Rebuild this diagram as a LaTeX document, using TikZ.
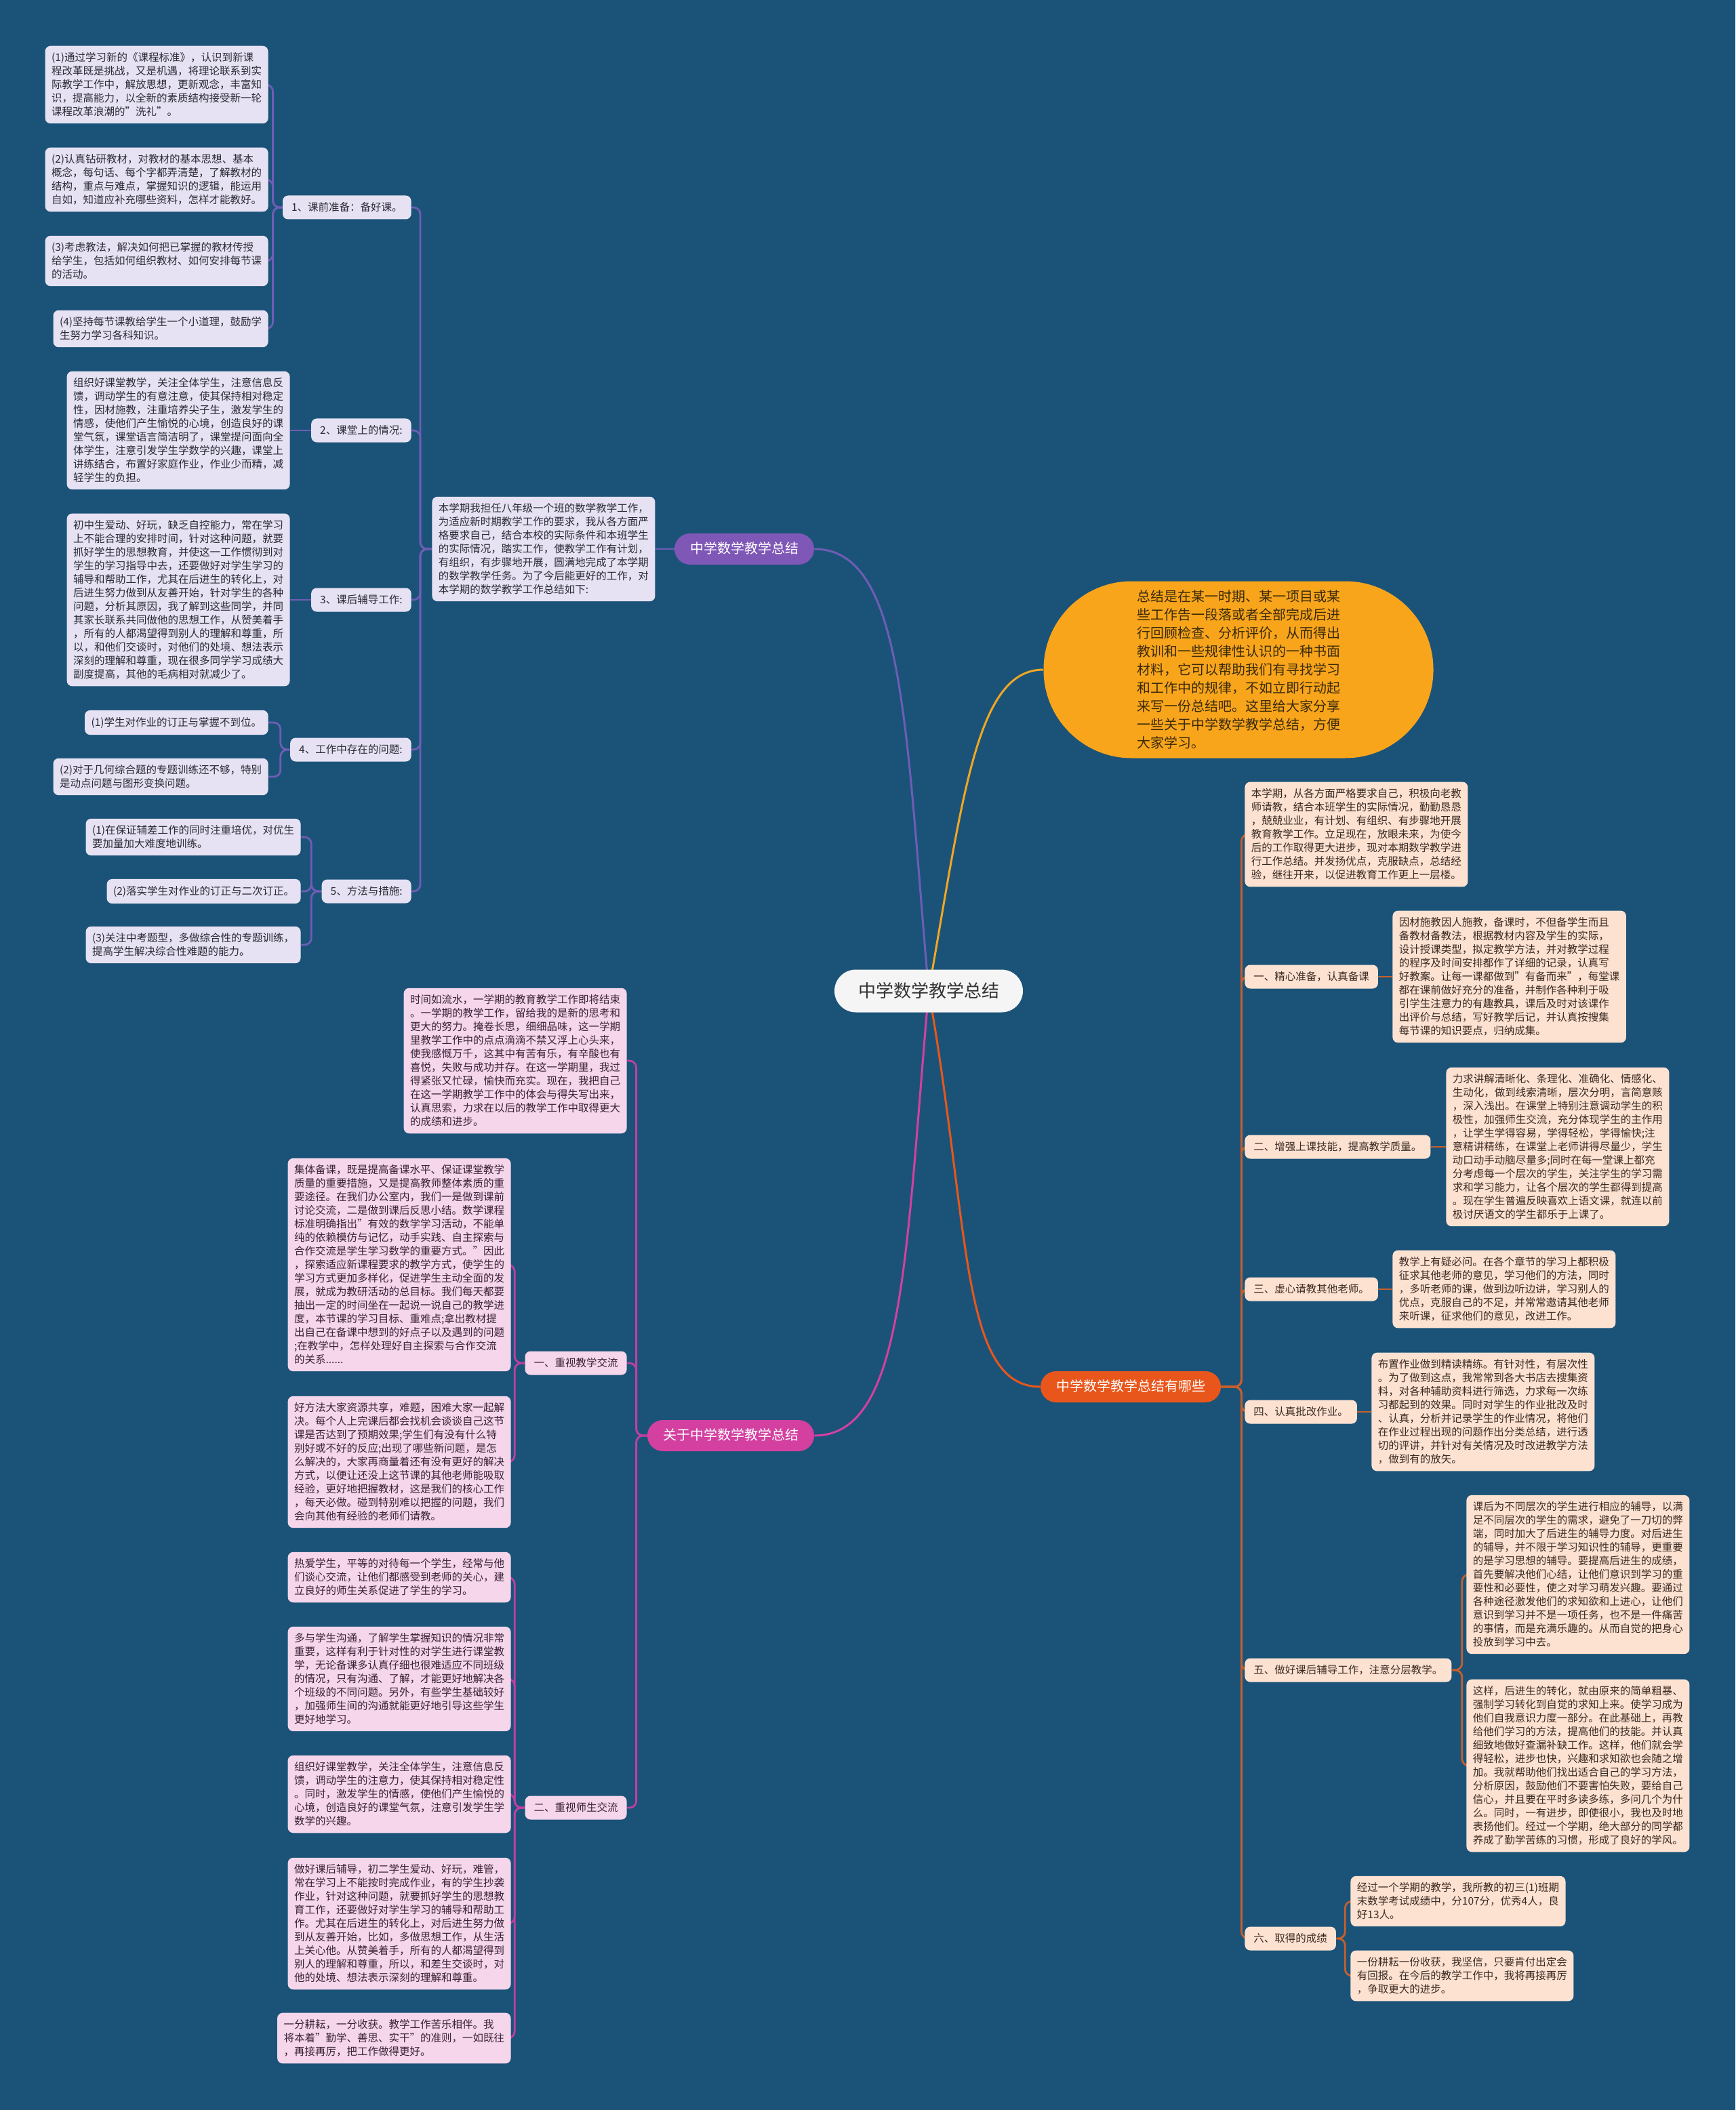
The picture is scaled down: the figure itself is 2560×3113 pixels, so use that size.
\documentclass[tikz,border=0pt]{standalone}
\usepackage{fontspec}
\setmainfont{Noto Sans CJK SC}
\usetikzlibrary{backgrounds}
\definecolor{bgc}{HTML}{1B5378}
\definecolor{pPill}{HTML}{7F57B6}
\definecolor{pLine}{HTML}{6E5DB5}
\definecolor{pLeaf}{HTML}{E6E2F3}
\definecolor{pText}{HTML}{2A2A35}
\definecolor{eFill}{HTML}{F8A51C}
\definecolor{eLine}{HTML}{F2A623}
\definecolor{eText}{HTML}{3A2A0A}
\definecolor{rPill}{HTML}{E9561C}
\definecolor{rLine}{HTML}{C75F2C}
\definecolor{rLeaf}{HTML}{FDE2D2}
\definecolor{rText}{HTML}{3B2A22}
\definecolor{gPill}{HTML}{D440A0}
\definecolor{gLine}{HTML}{BE3FA2}
\definecolor{gLeaf}{HTML}{F5D6EB}
\definecolor{gText}{HTML}{3A2236}
\definecolor{rootFill}{HTML}{F5F5F6}
\definecolor{rootText}{HTML}{333333}
\newcommand\lffont{\fontsize{7.75pt}{10pt}\selectfont}
\newcommand\brfont{\fontsize{10pt}{12pt}\selectfont}
\newcommand\rtfont{\fontsize{13pt}{15pt}\selectfont}
\newcommand\elfont{\fontsize{10pt}{13.5pt}\selectfont}
\tikzset{
  lf/.style={align=left, font=\lffont, inner xsep=4.75pt, inner ysep=5pt, rounded corners=4pt},
  lfP/.style={lf, fill=pLeaf, text=pText},
  lfR/.style={lf, fill=rLeaf, text=rText},
  lfG/.style={lf, fill=gLeaf, text=gText},
  lb/.style={font=\lffont, inner xsep=6.5pt, inner ysep=4.75pt, text height=6.8pt, text depth=1.2pt, rounded corners=4pt},
  lbP/.style={lb, fill=pLeaf, text=pText},
  lbR/.style={lb, fill=rLeaf, text=rText},
  lbG/.style={lb, fill=gLeaf, text=gText},
  pill/.style={font=\brfont, text=white, inner xsep=11.5pt, minimum height=23pt, rounded corners=11.5pt, text height=7.5pt, text depth=1.5pt},
  cn/.style={line width=1.4pt, rounded corners=5pt},
  pL/.style={cn, draw=pLine},
  rL/.style={cn, draw=rLine},
  gL/.style={cn, draw=gLine},
  rootcurve/.style={line width=1.5pt}
}
\begin{document}
\begin{tikzpicture}[x=0.5pt,y=-0.5pt]
\useasboundingbox (0,0) rectangle (2560,3113);

% ---------- root ----------
\node[fill=rootFill, text=rootText, font=\rtfont, minimum width=139pt, minimum height=31.5pt, rounded corners=15.75pt] (root) at (1370,1462) {中学数学教学总结};

% ---------- purple branch ----------
\node[pill, fill=pPill] (P0) at (1098,810) {中学数学教学总结};
\node[lfP, anchor=west] (PI) at (637,810) {本学期我担任八年级一个班的数学教学工作，\\为适应新时期教学工作的要求，我从各方面严\\格要求自己，结合本校的实际条件和本班学生\\的实际情况，踏实工作，使教学工作有计划，\\有组织，有步骤地开展，圆满地完成了本学期\\的数学教学任务。为了今后能更好的工作，对\\本学期的数学教学工作总结如下:};

\node[lbP, anchor=east] (L1) at (607,306) {1、课前准备：备好课。};
\node[lfP, anchor=east] (A1) at (396,125) {(1)通过学习新的《课程标准》，认识到新课\\程改革既是挑战，又是机遇，将理论联系到实\\际教学工作中，解放思想，更新观念，丰富知\\识，提高能力，以全新的素质结构接受新一轮\\课程改革浪潮的"洗礼"。};
\node[lfP, anchor=east] (A2) at (396,265) {(2)认真钻研教材，对教材的基本思想、基本\\概念，每句话、每个字都弄清楚，了解教材的\\结构，重点与难点，掌握知识的逻辑，能运用\\自如，知道应补充哪些资料，怎样才能教好。};
\node[lfP, anchor=east] (A3) at (396,385) {(3)考虑教法，解决如何把已掌握的教材传授\\给学生，包括如何组织教材、如何安排每节课\\的活动。};
\node[lfP, anchor=east] (A4) at (396,485) {(4)坚持每节课教给学生一个小道理，鼓励学\\生努力学习各科知识。};

\node[lbP, anchor=east] (L2) at (607,635) {2、课堂上的情况:};
\node[lfP, anchor=east] (B2) at (428,635) {组织好课堂教学，关注全体学生，注意信息反\\馈，调动学生的有意注意，使其保持相对稳定\\性，因材施教，注重培养尖子生，激发学生的\\情感，使他们产生愉悦的心境，创造良好的课\\堂气氛，课堂语言简洁明了，课堂提问面向全\\体学生，注意引发学生学数学的兴趣，课堂上\\讲练结合，布置好家庭作业，作业少而精，减\\轻学生的负担。};

\node[lbP, anchor=east] (L3) at (607,885) {3、课后辅导工作:};
\node[lfP, anchor=east] (B3) at (428,885) {初中生爱动、好玩，缺乏自控能力，常在学习\\上不能合理的安排时间，针对这种问题，就要\\抓好学生的思想教育，并使这一工作惯彻到对\\学生的学习指导中去，还要做好对学生学习的\\辅导和帮助工作，尤其在后进生的转化上，对\\后进生努力做到从友善开始，针对学生的各种\\问题，分析其原因，我了解到这些同学，并同\\其家长联系共同做他的思想工作，从赞美着手\\，所有的人都渴望得到别人的理解和尊重，所\\以，和他们交谈时，对他们的处境、想法表示\\深刻的理解和尊重，现在很多同学学习成绩大\\副度提高，其他的毛病相对就减少了。};

\node[lbP, anchor=east] (L4) at (607,1106) {4、工作中存在的问题:};
\node[lfP, anchor=east] (C1) at (396,1066) {(1)学生对作业的订正与掌握不到位。};
\node[lfP, anchor=east] (C2) at (396,1146) {(2)对于几何综合题的专题训练还不够，特别\\是动点问题与图形变换问题。};

\node[lbP, anchor=east] (L5) at (607,1315) {5、方法与措施:};
\node[lfP, anchor=east] (D1) at (444,1235) {(1)在保证辅差工作的同时注重培优，对优生\\要加量加大难度地训练。};
\node[lfP, anchor=east] (D2) at (444,1315) {(2)落实学生对作业的订正与二次订正。};
\node[lfP, anchor=east] (D3) at (444,1394) {(3)关注中考题型，多做综合性的专题训练，\\提高学生解决综合性难题的能力。};

% ---------- orange ellipse ----------
\node[fill=eFill, text=eText, font=\elfont, align=left, minimum width=287.5pt, minimum height=130.5pt, rounded corners=65pt] (E) at (1827,988) {总结是在某一时期、某一项目或某\\些工作告一段落或者全部完成后进\\行回顾检查、分析评价，从而得出\\教训和一些规律性认识的一种书面\\材料，它可以帮助我们有寻找学习\\和工作中的规律，不如立即行动起\\来写一份总结吧。这里给大家分享\\一些关于中学数学教学总结，方便\\大家学习。};

% ---------- orange-red branch ----------
\node[pill, fill=rPill] (R0) at (1668,2046) {中学数学教学总结有哪些};
\node[lfR, anchor=west] (RI) at (1836,1231) {本学期，从各方面严格要求自己，积极向老教\\师请教，结合本班学生的实际情况，勤勤恳恳\\，兢兢业业，有计划、有组织、有步骤地开展\\教育教学工作。立足现在，放眼未来，为使今\\后的工作取得更大进步，现对本期数学教学进\\行工作总结。并发扬优点，克服缺点，总结经\\验，继往开来，以促进教育工作更上一层楼。};

\node[lbR, anchor=west] (R1) at (1836,1441) {一、精心准备，认真备课};
\node[lfR, anchor=west] (R1a) at (2054,1441) {因材施教因人施教，备课时，不但备学生而且\\备教材备教法，根据教材内容及学生的实际，\\设计授课类型，拟定教学方法，并对教学过程\\的程序及时间安排都作了详细的记录，认真写\\好教案。让每一课都做到"有备而来"，每堂课\\都在课前做好充分的准备，并制作各种利于吸\\引学生注意力的有趣教具，课后及时对该课作\\出评价与总结，写好教学后记，并认真按搜集\\每节课的知识要点，归纳成集。};

\node[lbR, anchor=west] (R2) at (1836,1692) {二、增强上课技能，提高教学质量。};
\node[lfR, anchor=west] (R2a) at (2133,1692) {力求讲解清晰化、条理化、准确化、情感化、\\生动化，做到线索清晰，层次分明，言简意赅\\，深入浅出。在课堂上特别注意调动学生的积\\极性，加强师生交流，充分体现学生的主作用\\，让学生学得容易，学得轻松，学得愉快;注\\意精讲精练，在课堂上老师讲得尽量少，学生\\动口动手动脑尽量多;同时在每一堂课上都充\\分考虑每一个层次的学生，关注学生的学习需\\求和学习能力，让各个层次的学生都得到提高\\。现在学生普遍反映喜欢上语文课，就连以前\\极讨厌语文的学生都乐于上课了。};

\node[lbR, anchor=west] (R3) at (1836,1902) {三、虚心请教其他老师。};
\node[lfR, anchor=west] (R3a) at (2054,1902) {教学上有疑必问。在各个章节的学习上都积极\\征求其他老师的意见，学习他们的方法，同时\\，多听老师的课，做到边听边讲，学习别人的\\优点，克服自己的不足，并常常邀请其他老师\\来听课，征求他们的意见，改进工作。};

\node[lbR, anchor=west] (R4) at (1836,2083) {四、认真批改作业。};
\node[lfR, anchor=west] (R4a) at (2023,2083) {布置作业做到精读精练。有针对性，有层次性\\。为了做到这点，我常常到各大书店去搜集资\\料，对各种辅助资料进行筛选，力求每一次练\\习都起到的效果。同时对学生的作业批改及时\\、认真，分析并记录学生的作业情况，将他们\\在作业过程出现的问题作出分类总结，进行透\\切的评讲，并针对有关情况及时改进教学方法\\，做到有的放矢。};

\node[lbR, anchor=west] (R5) at (1836,2464) {五、做好课后辅导工作，注意分层教学。};
\node[lfR, anchor=west] (R5a) at (2163,2323) {课后为不同层次的学生进行相应的辅导，以满\\足不同层次的学生的需求，避免了一刀切的弊\\端，同时加大了后进生的辅导力度。对后进生\\的辅导，并不限于学习知识性的辅导，更重要\\的是学习思想的辅导。要提高后进生的成绩，\\首先要解决他们心结，让他们意识到学习的重\\要性和必要性，使之对学习萌发兴趣。要通过\\各种途径激发他们的求知欲和上进心，让他们\\意识到学习并不是一项任务，也不是一件痛苦\\的事情，而是充满乐趣的。从而自觉的把身心\\投放到学习中去。};
\node[lfR, anchor=west] (R5b) at (2163,2605) {这样，后进生的转化，就由原来的简单粗暴、\\强制学习转化到自觉的求知上来。使学习成为\\他们自我意识力度一部分。在此基础上，再教\\给他们学习的方法，提高他们的技能。并认真\\细致地做好查漏补缺工作。这样，他们就会学\\得轻松，进步也快，兴趣和求知欲也会随之增\\加。我就帮助他们找出适合自己的学习方法，\\分析原因，鼓励他们不要害怕失败，要给自己\\信心，并且要在平时多读多练，多问几个为什\\么。同时，一有进步，即使很小，我也及时地\\表扬他们。经过一个学期，绝大部分的同学都\\养成了勤学苦练的习惯，形成了良好的学风。};

\node[lbR, anchor=west] (R6) at (1836,2860) {六、取得的成绩};
\node[lfR, anchor=west] (R6a) at (1992,2805) {经过一个学期的教学，我所教的初三(1)班期\\末数学考试成绩中，分107分，优秀4人，良\\好13人。};
\node[lfR, anchor=west] (R6b) at (1992,2915) {一份耕耘一份收获，我坚信，只要肯付出定会\\有回报。在今后的教学工作中，我将再接再厉\\，争取更大的进步。};

% ---------- pink branch ----------
\node[pill, fill=gPill] (G0) at (1078,2118) {关于中学数学教学总结};
\node[lfG, anchor=east] (GI) at (925,1565) {时间如流水，一学期的教育教学工作即将结束\\。一学期的教学工作，留给我的是新的思考和\\更大的努力。掩卷长思，细细品味，这一学期\\里教学工作中的点点滴滴不禁又浮上心头来，\\使我感慨万千，这其中有苦有乐，有辛酸也有\\喜悦，失败与成功并存。在这一学期里，我过\\得紧张又忙碌，愉快而充实。现在，我把自己\\在这一学期教学工作中的体会与得失写出来，\\认真思索，力求在以后的教学工作中取得更大\\的成绩和进步。};

\node[lbG, anchor=east] (G1) at (925,2011) {一、重视教学交流};
\node[lfG, anchor=east] (G1a) at (754,1866) {集体备课，既是提高备课水平、保证课堂教学\\质量的重要措施，又是提高教师整体素质的重\\要途径。在我们办公室内，我们一是做到课前\\讨论交流，二是做到课后反思小结。数学课程\\标准明确指出"有效的数学学习活动，不能单\\纯的依赖模仿与记忆，动手实践、自主探索与\\合作交流是学生学习数学的重要方式。"因此\\，探索适应新课程要求的教学方式，使学生的\\学习方式更加多样化，促进学生主动全面的发\\展，就成为教研活动的总目标。我们每天都要\\抽出一定的时间坐在一起说一说自己的教学进\\度，本节课的学习目标、重难点;拿出教材提\\出自己在备课中想到的好点子以及遇到的问题\\;在教学中，怎样处理好自主探索与合作交流\\的关系......};
\node[lfG, anchor=east] (G1b) at (754,2157) {好方法大家资源共享，难题，困难大家一起解\\决。每个人上完课后都会找机会谈谈自己这节\\课是否达到了预期效果;学生们有没有什么特\\别好或不好的反应;出现了哪些新问题，是怎\\么解决的，大家再商量着还有没有更好的解决\\方式，以便让还没上这节课的其他老师能吸取\\经验，更好地把握教材，这是我们的核心工作\\，每天必做。碰到特别难以把握的问题，我们\\会向其他有经验的老师们请教。};

\node[lbG, anchor=east] (G2) at (925,2667) {二、重视师生交流};
\node[lfG, anchor=east] (G2a) at (754,2327) {热爱学生，平等的对待每一个学生，经常与他\\们谈心交流，让他们都感受到老师的关心，建\\立良好的师生关系促进了学生的学习。};
\node[lfG, anchor=east] (G2b) at (754,2477) {多与学生沟通，了解学生掌握知识的情况非常\\重要，这样有利于针对性的对学生进行课堂教\\学，无论备课多认真仔细也很难适应不同班级\\的情况，只有沟通、了解，才能更好地解决各\\个班级的不同问题。另外，有些学生基础较好\\，加强师生间的沟通就能更好地引导这些学生\\更好地学习。};
\node[lfG, anchor=east] (G2c) at (754,2647) {组织好课堂教学，关注全体学生，注意信息反\\馈，调动学生的注意力，使其保持相对稳定性\\。同时，激发学生的情感，使他们产生愉悦的\\心境，创造良好的课堂气氛，注意引发学生学\\数学的兴趣。};
\node[lfG, anchor=east] (G2d) at (754,2838) {做好课后辅导，初二学生爱动、好玩，难管，\\常在学习上不能按时完成作业，有的学生抄袭\\作业，针对这种问题，就要抓好学生的思想教\\育工作，还要做好对学生学习的辅导和帮助工\\作。尤其在后进生的转化上，对后进生努力做\\到从友善开始，比如，多做思想工作，从生活\\上关心他。从赞美着手，所有的人都渴望得到\\别人的理解和尊重，所以，和差生交谈时，对\\他的处境、想法表示深刻的理解和尊重。};
\node[lfG, anchor=east] (G2e) at (754,3007) {一分耕耘，一分收获。教学工作苦乐相伴。我\\将本着"勤学、善思、实干"的准则，一如既往\\，再接再厉，把工作做得更好。};

% ---------- connectors ----------
\begin{scope}[on background layer]
\fill[bgc] (0,0) rectangle (2560,3113);
% root curves
\draw[rootcurve, draw=pLine] (root.center) to[out=95, in=0, out looseness=1.5, in looseness=0.5] (P0.east);
\draw[rootcurve, draw=eLine] (root.center) to[out=80, in=180, out looseness=1.5, in looseness=0.5] (E.west);
\draw[rootcurve, draw=rPill] (root.center) to[out=-80, in=180, out looseness=1.5, in looseness=0.5] (R0.west);
\draw[rootcurve, draw=gPill] (root.center) to[out=-95, in=0, out looseness=1.5, in looseness=0.5] (G0.east);
% purple
\draw[pL] (P0.west) -- (PI.east);
\foreach \c in {L1,L2,L3,L4,L5} \draw[pL] (PI.west) -- ++(-17,0) |- (\c.east);
\foreach \c in {A1,A2,A3,A4} \draw[pL] (L1.west) -- ++(-14,0) |- (\c.east);
\draw[pL] (L2.west) -- (B2.east);
\draw[pL] (L3.west) -- (B3.east);
\foreach \c in {C1,C2} \draw[pL] (L4.west) -- ++(-14,0) |- (\c.east);
\foreach \c in {D1,D2,D3} \draw[pL] (L5.west) -- ++(-15,0) |- (\c.east);
% orange-red
\foreach \c in {RI,R1,R2,R3,R4,R5,R6} \draw[rL] (R0.east) -- ++(30,0) |- (\c.west);
\draw[rL] (R1.east) -- (R1a.west);
\draw[rL] (R2.east) -- (R2a.west);
\draw[rL] (R3.east) -- (R3a.west);
\draw[rL] (R4.east) -- (R4a.west);
\foreach \c in {R5a,R5b} \draw[rL] (R5.east) -- ++(15,0) |- (\c.west);
\foreach \c in {R6a,R6b} \draw[rL] (R6.east) -- ++(13,0) |- (\c.west);
% pink
\foreach \c in {GI,G1,G2} \draw[gL] (G0.west) -- ++(-16,0) |- (\c.east);
\foreach \c in {G1a,G1b} \draw[gL] (G1.west) -- ++(-15,0) |- (\c.east);
\foreach \c in {G2a,G2b,G2c,G2d,G2e} \draw[gL] (G2.west) -- ++(-15,0) |- (\c.east);
\end{scope}
\end{tikzpicture}
\end{document}
